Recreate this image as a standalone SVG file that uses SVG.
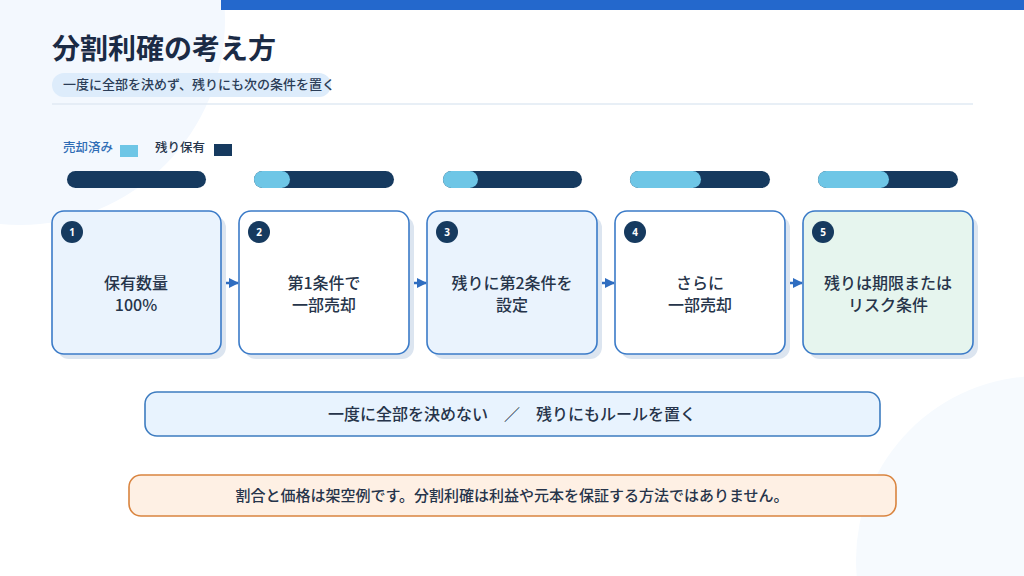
<svg xmlns="http://www.w3.org/2000/svg" width="1024" height="576" viewBox="0 0 1024 576">
<defs>
<style>
.t{font-family:"Noto Sans CJK JP","Noto Sans",sans-serif;fill:#26344A;font-weight:500}
.card{stroke:#3B7BC8;stroke-width:1.6}
.sh{fill:#DCE5F0}
.badge{fill:#163A5F}
.bn{font-family:"Noto Sans","Noto Sans CJK JP",sans-serif;font-size:10px;font-weight:bold;fill:#fff;text-anchor:middle}
.ct{font-family:"Noto Sans CJK JP","Noto Sans",sans-serif;font-size:16px;font-weight:500;fill:#26344A;text-anchor:middle}
.dark{fill:#163A5F}
.light{fill:#6EC6E6}
.conn{stroke:#2F6DC0;stroke-width:2.5;fill:none}
</style>
<marker id="ah" viewBox="0 0 10 10" refX="9" refY="5" markerWidth="4" markerHeight="4" orient="auto" markerUnits="strokeWidth">
<path d="M0,0 L10,5 L0,10 z" fill="#2F6DC0"/>
</marker>
</defs>
<rect width="1024" height="576" fill="#ffffff"/>
<circle cx="20" cy="20" r="205" fill="#F3F8FE"/>
<circle cx="1040" cy="560" r="184" fill="#F6FAFE"/>
<rect x="221" y="0" width="803" height="10" fill="#2468CC"/>

<g id="title">
<text x="52" y="59" class="t" font-size="28" style="fill:#1B2B45;font-weight:bold">分割利確の考え方</text>
<rect x="52" y="73" width="279" height="24" rx="12" fill="#DDECFB"/>
<text x="63" y="89" class="t" font-size="13" style="fill:#2B3D57">一度に全部を決めず、残りにも次の条件を置く</text>
<line x1="52" y1="104" x2="973" y2="104" stroke="#E1EAF3" stroke-width="1.5"/>
</g>

<g id="legend">
<text x="63" y="152" class="t" font-size="12.5" style="fill:#2F6DB5">売却済み</text>
<rect x="120" y="145" width="18" height="12" class="light"/>
<text x="155" y="152" class="t" font-size="12.5" style="fill:#26344A">残り保有</text>
<rect x="214" y="144" width="18" height="12" class="dark"/>
</g>

<g id="bars">
<rect x="67" y="171" width="139" height="17" rx="8.5" class="dark"/>
<rect x="254" y="171" width="140" height="17" rx="8.5" class="dark"/>
<rect x="254" y="171" width="36" height="17" rx="8.5" class="light"/>
<rect x="443" y="171" width="139" height="17" rx="8.5" class="dark"/>
<rect x="443" y="171" width="35" height="17" rx="8.5" class="light"/>
<rect x="630" y="171" width="140" height="17" rx="8.5" class="dark"/>
<rect x="630" y="171" width="71" height="17" rx="8.5" class="light"/>
<rect x="818" y="171" width="140" height="17" rx="8.5" class="dark"/>
<rect x="818" y="171" width="71" height="17" rx="8.5" class="light"/>
</g>

<g id="connectors">
<line x1="224" y1="283" x2="238" y2="283" class="conn" marker-end="url(#ah)"/>
<line x1="412" y1="283" x2="426" y2="283" class="conn" marker-end="url(#ah)"/>
<line x1="600" y1="283" x2="614" y2="283" class="conn" marker-end="url(#ah)"/>
<line x1="788" y1="283" x2="802" y2="283" class="conn" marker-end="url(#ah)"/>
</g>

<g id="node1">
<rect x="57" y="216" width="169" height="143" rx="12" class="sh"/>
<rect x="52" y="211" width="169" height="143" rx="12" class="card" fill="#EAF3FD"/>
<circle cx="72" cy="232" r="11" class="badge"/>
<text x="72" y="236" class="bn">1</text>
<text x="136" y="289" class="ct">保有数量</text>
<text x="136" y="311" class="ct">100%</text>
</g>
<g id="node2">
<rect x="244" y="216" width="170" height="143" rx="12" class="sh"/>
<rect x="239" y="211" width="170" height="143" rx="12" class="card" fill="#FFFFFF"/>
<circle cx="259" cy="232" r="11" class="badge"/>
<text x="259" y="236" class="bn">2</text>
<text x="324" y="289" class="ct">第1条件で</text>
<text x="324" y="311" class="ct">一部売却</text>
</g>
<g id="node3">
<rect x="432" y="216" width="170" height="143" rx="12" class="sh"/>
<rect x="427" y="211" width="170" height="143" rx="12" class="card" fill="#EAF3FD"/>
<circle cx="447" cy="232" r="11" class="badge"/>
<text x="447" y="236" class="bn">3</text>
<text x="512" y="289" class="ct">残りに第2条件を</text>
<text x="512" y="311" class="ct">設定</text>
</g>
<g id="node4">
<rect x="620" y="216" width="170" height="143" rx="12" class="sh"/>
<rect x="615" y="211" width="170" height="143" rx="12" class="card" fill="#FFFFFF"/>
<circle cx="635" cy="232" r="11" class="badge"/>
<text x="635" y="236" class="bn">4</text>
<text x="700" y="289" class="ct">さらに</text>
<text x="700" y="311" class="ct">一部売却</text>
</g>
<g id="node5">
<rect x="808" y="216" width="170" height="143" rx="12" class="sh"/>
<rect x="803" y="211" width="170" height="143" rx="12" class="card" fill="#E6F5EE"/>
<circle cx="823" cy="232" r="11" class="badge"/>
<text x="823" y="236" class="bn">5</text>
<text x="888" y="289" class="ct">残りは期限または</text>
<text x="888" y="311" class="ct">リスク条件</text>
</g>

<g id="summary">
<rect x="145" y="392" width="735" height="44" rx="12" fill="#E8F3FE" stroke="#3D7CC0" stroke-width="1.6"/>
<text x="512" y="420" class="t" font-size="16" text-anchor="middle" xml:space="preserve">一度に全部を決めない　／　残りにもルールを置く</text>
</g>

<g id="note">
<rect x="129" y="475" width="767" height="41" rx="12" fill="#FEF0E4" stroke="#D9843F" stroke-width="1.6"/>
<text x="512" y="501" class="t" font-size="15" text-anchor="middle">割合と価格は架空例です。分割利確は利益や元本を保証する方法ではありません。</text>
</g>
</svg>
